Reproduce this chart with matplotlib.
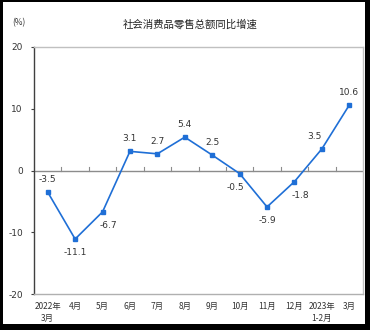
import matplotlib
matplotlib.use("Agg")
import matplotlib.pyplot as plt
from matplotlib.patches import Rectangle

plt.rcParams['font.family'] = ['Noto Sans CJK SC', 'DejaVu Sans']

months = ["2022年\n3月", "4月", "5月", "6月", "7月", "8月", "9月", "10月", "11月", "12月", "2023年\n1-2月", "3月"]
growth = [-3.5, -11.1, -6.7, 3.1, 2.7, 5.4, 2.5, -0.5, -5.9, -1.8, 3.5, 10.6]
# label offsets in points (dx, dy)
label_offsets = [(0, 9), (0, -10), (4, -10), (0, 9), (0, 9), (0, 9), (0, 9), (-3, -10), (0, -10), (4, -10), (-5, 9), (0, 9)]
yticks = [-20, -10, 0, 10, 20]

W, H = 370, 330
fig = plt.figure(figsize=(W / 100, H / 100), dpi=100)
fig.patch.set_facecolor("black")
fig.add_artist(Rectangle((3 / W, 1 - 324 / H), (365 - 3) / W, (324 - 2) / H,
                         transform=fig.transFigure, facecolor="white", edgecolor="none", zorder=0))

left, right, top, bottom = 34, 363, 47, 294
ax = fig.add_axes([left / W, 1 - bottom / H, (right - left) / W, (bottom - top) / H])
ax.set_facecolor("white")

x = list(range(len(months)))
ax.plot(x, growth, color="#1f6fd6", lw=1.2, marker="s", ms=3.5, zorder=3)

for xi, v, (dx, dy) in zip(x, growth, label_offsets):
    ax.annotate(f"{v:.1f}", (xi, v), xytext=(dx, dy), textcoords="offset points",
                ha="center", va="center", fontsize=6.5, color="#333333", family="DejaVu Sans")

ax.set_xlim(-0.5, len(months) - 0.5)
ax.set_ylim(-20, 20)

# zero line with small category-boundary ticks
ax.axhline(0, color="#8c8c8c", lw=1.0, zorder=1)
for b in range(1, len(months)):
    ax.plot([b - 0.5, b - 0.5], [0, 0.5], color="#8c8c8c", lw=0.8, zorder=1)

for s in ["top", "right"]:
    ax.spines[s].set_color("#c0c0c0")
    ax.spines[s].set_linewidth(1.0)
ax.spines["bottom"].set_color("#b0b0b0")
ax.spines["bottom"].set_linewidth(1.0)
ax.spines["left"].set_color("#404040")
ax.spines["left"].set_linewidth(1.0)

ax.set_yticks(yticks)
ax.set_yticklabels([str(t) for t in yticks], fontsize=6.5, color="#333333", family="DejaVu Sans")
ax.tick_params(axis="y", length=2, width=0.8, color="#404040", pad=6)
ax.set_xticks(x)
ax.set_xticklabels(months, fontsize=6, color="#333333", linespacing=1.4)
ax.tick_params(axis="x", length=0, pad=6)

fig.text(190 / W, 1 - 24 / H, "社会消费品零售总额同比增速", ha="center", va="center", fontsize=7.5, color="#222222")
fig.text(19 / W, 1 - 23 / H, "(%)", ha="center", va="center", fontsize=6, color="#333333")

fig.savefig("out.png", dpi=100, facecolor=fig.get_facecolor())
